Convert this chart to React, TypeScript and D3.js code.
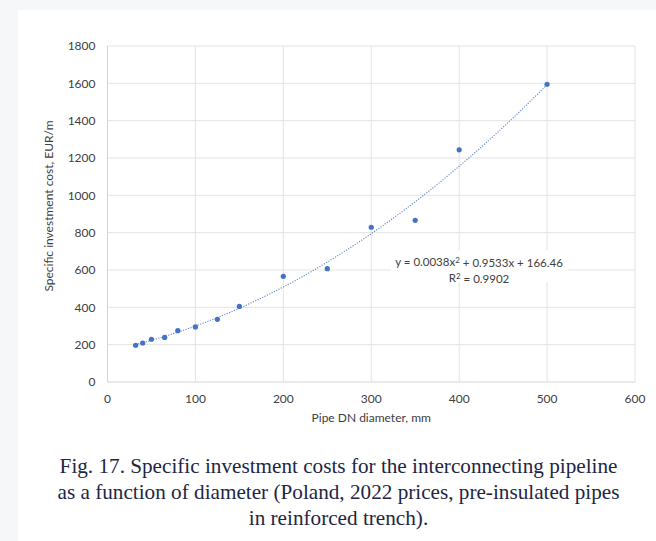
import React from "react";
import * as d3 from "d3";

// Pipe nominal diameters (DN, mm) and specific investment cost (EUR/m)
const diameters = [32, 40, 50, 65, 80, 100, 125, 150, 200, 250, 300, 350, 400, 500];
const costs = [197, 209, 229, 239, 275, 295, 336, 405, 566, 607, 829, 866, 1244, 1595];

// Quadratic trendline coefficients: y = a x^2 + b x + c
const trendA = 0.0038;
const trendB = 0.9533;
const trendC = 166.46;
const trendR2 = "0.9902";

const xTicks = [0, 100, 200, 300, 400, 500, 600];
const yTicks = [0, 200, 400, 600, 800, 1000, 1200, 1400, 1600, 1800];

const captionLines = [
  "Fig. 17. Specific investment costs for the interconnecting pipeline",
  "as a function of diameter (Poland, 2022 prices, pre-insulated pipes",
  "in reinforced trench).",
];

const W = 656;
const H = 541;
const plot = { left: 107.5, right: 635, top: 46, bottom: 382 };
const FONT = "Lato, 'Open Sans', sans-serif";
const BLUE = "#4472c4";
const GRID = "#e3e3e3";

export default function App() {
  const x = d3.scaleLinear().domain([0, 600]).range([plot.left, plot.right]);
  const y = d3.scaleLinear().domain([0, 1800]).range([plot.bottom, plot.top]);

  const xMin = d3.min(diameters) as number;
  const xMax = d3.max(diameters) as number;
  const trendX = d3.range(xMin, xMax + 0.001, (xMax - xMin) / 120);
  const trendPath =
    d3
      .line<number>()
      .x((d) => x(d))
      .y((d) => y(trendA * d * d + trendB * d + trendC))(trendX) || "";

  const labelX = 479;
  const labelY = 262;

  return (
    <svg
      width={W}
      height={H}
      style={{ position: "absolute", left: 0, top: 0, background: "#ffffff" }}
    >
      {/* page background strips */}
      <rect x={0} y={0} width={W} height={H} fill="#f6f7f9" />
      <rect x={18} y={10} width={W - 18} height={H - 10} fill="#ffffff" />

      {/* gridlines */}
      {yTicks.map((t) => (
        <line
          key={"gy" + t}
          x1={plot.left}
          x2={plot.right}
          y1={y(t)}
          y2={y(t)}
          stroke={t === 0 ? "#d4d4d4" : GRID}
          strokeWidth={1}
        />
      ))}
      {xTicks.map((t) => (
        <line
          key={"gx" + t}
          x1={x(t)}
          x2={x(t)}
          y1={plot.top}
          y2={plot.bottom}
          stroke={t === 0 ? "#d4d4d4" : GRID}
          strokeWidth={1}
        />
      ))}

      {/* tick labels */}
      {yTicks.map((t) => (
        <text
          key={"ty" + t}
          x={plot.left - 12}
          y={y(t)}
          dy="0.35em"
          textAnchor="end"
          fontFamily={FONT}
          fontSize={12}
          fill="#404040"
        >
          {t}
        </text>
      ))}
      {xTicks.map((t) => (
        <text
          key={"tx" + t}
          x={x(t)}
          y={plot.bottom + 17}
          dy="0.35em"
          textAnchor="middle"
          fontFamily={FONT}
          fontSize={12}
          fill="#404040"
        >
          {t}
        </text>
      ))}

      {/* axis titles */}
      <text
        x={(plot.left + plot.right) / 2}
        y={plot.bottom + 36}
        dy="0.35em"
        textAnchor="middle"
        fontFamily={FONT}
        fontSize={12}
        fill="#404040"
      >
        Pipe DN diameter, mm
      </text>
      <text
        transform={`translate(49, ${(plot.top + plot.bottom) / 2 - 8}) rotate(-90)`}
        dy="0.35em"
        textAnchor="middle"
        fontFamily={FONT}
        fontSize={12}
        fill="#404040"
      >
        Specific investment cost, EUR/m
      </text>

      {/* trendline */}
      <path
        d={trendPath}
        fill="none"
        stroke={BLUE}
        strokeWidth={1.1}
        strokeDasharray="1.2 1.4"
        opacity={0.85}
      />

      {/* data points */}
      {diameters.map((d, i) => (
        <circle key={"p" + d} cx={x(d)} cy={y(costs[i])} r={2.6} fill={BLUE} />
      ))}

      {/* trendline equation */}
      <rect x={391} y={250} width={177} height={32} fill="#ffffff" />
      <text
        x={labelX}
        y={labelY}
        dy="0.35em"
        textAnchor="middle"
        fontFamily={FONT}
        fontSize={11.5}
        fill="#404040"
      >
        {`y = ${trendA}x`}
        <tspan dy="-0.4em" fontSize={8}>2</tspan>
        <tspan dy="0.4em">{` + ${trendB}x + ${trendC}`}</tspan>
      </text>
      <text
        x={labelX}
        y={labelY + 16}
        dy="0.35em"
        textAnchor="middle"
        fontFamily={FONT}
        fontSize={11.5}
        fill="#404040"
      >
        R<tspan dy="-0.4em" fontSize={8}>2</tspan>
        <tspan dy="0.4em">{` = ${trendR2}`}</tspan>
      </text>

      {/* caption */}
      {captionLines.map((line, i) => (
        <text
          key={"c" + i}
          x={338.5}
          y={473.3 + i * 26}
          textAnchor="middle"
          fontFamily="'Liberation Serif', 'Times New Roman', serif"
          fontSize={21.2}
          fill="#1e2645"
        >
          {line}
        </text>
      ))}
    </svg>
  );
}
